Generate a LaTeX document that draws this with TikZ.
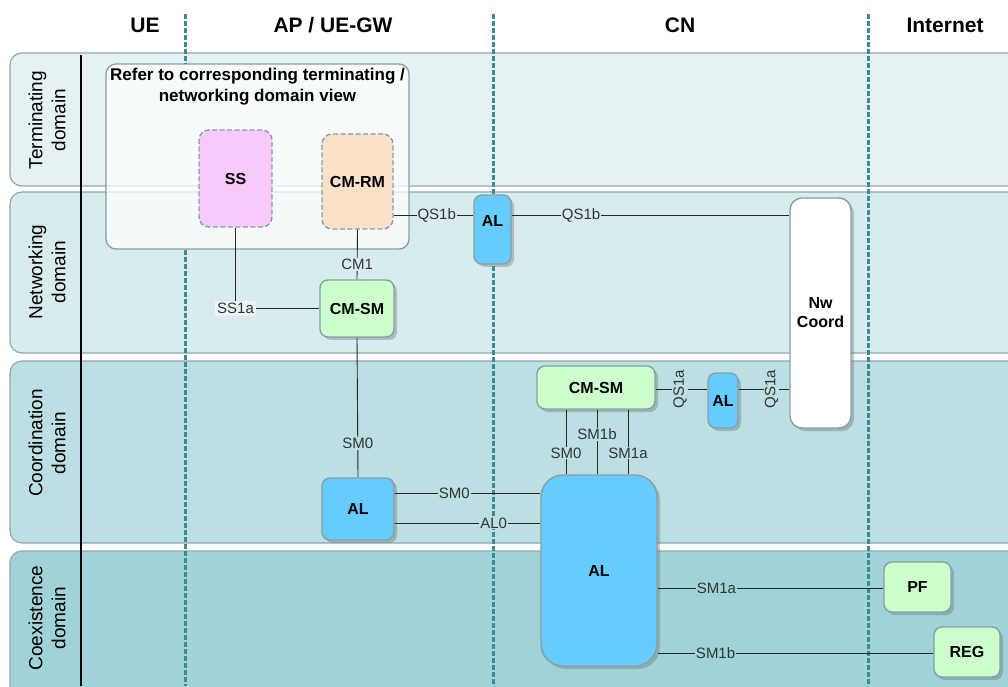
\documentclass[tikz,border=0pt]{standalone}
\usepackage{fontspec}
\setmainfont{Liberation Sans}
\usetikzlibrary{shadows}

\definecolor{laneA}{HTML}{E5F2F4}
\definecolor{laneB}{HTML}{D8EBEE}
\definecolor{laneC}{HTML}{BBDFE3}
\definecolor{laneD}{HTML}{A0D3D8}
\definecolor{laneline}{HTML}{8DA9AD}
\definecolor{boxline}{HTML}{86A0A5}
\definecolor{guide}{HTML}{3B8C93}
\definecolor{ssfill}{HTML}{F9C9F9}
\definecolor{rmfill}{HTML}{FCE1C9}
\definecolor{smfill}{HTML}{CCFFCC}
\definecolor{alfill}{HTML}{66CCFF}
\definecolor{ssbg}{HTML}{EBF5F6}

\tikzset{
  lane/.style={draw=laneline, line width=1.2pt, rounded corners=12pt},
  guideline/.style={draw=guide, line width=3pt, dash pattern=on 5pt off 2pt},
  hdr/.style={font=\fontsize{21}{24}\selectfont\bfseries},
  lanelbl/.style={font=\fontsize{19}{23}\selectfont, align=center, rotate=90},
  fn/.style={draw=boxline, line width=1.4pt, rounded corners=8pt,
    drop shadow={shadow xshift=3pt, shadow yshift=-3pt, opacity=.35, fill=black!60},
    font=\fontsize{16}{19}\selectfont\bfseries, align=center, inner sep=0pt},
  viewfn/.style={draw=boxline, line width=1.4pt, dash pattern=on 5pt off 2.5pt,
    rounded corners=10pt, font=\fontsize{16}{19}\selectfont\bfseries, inner sep=0pt},
  conn/.style={draw=black!85, line width=0.9pt},
  lbl/.style={font=\fontsize{15}{17}\selectfont, text=black!80, inner sep=1pt}
}

\begin{document}
\begin{tikzpicture}[x=1pt,y=1pt]
\useasboundingbox (0,0) rectangle (1008,686);
\clip (0,0) rectangle (1008,686);

% swim lanes
\draw[lane, fill=laneA] (10,500) rectangle (1040,633);
\draw[lane, fill=laneB] (10,333) rectangle (1040,494);
\draw[lane, fill=laneC] (10,143) rectangle (1040,325);
\draw[lane, fill=laneD] (10,-40) rectangle (1040,135);
\draw[line width=1.2pt] (81,631) -- (81,0);

% lane titles
\node[lanelbl] (tdom) at (47,566) {Terminating\\domain};
\node[lanelbl] (ndom) at (47,414) {Networking\\domain};
\node[lanelbl] (cdom) at (47,243) {Coordination\\domain};
\node[lanelbl] (xdom) at (47,68) {Coexistence\\domain};

% column titles
\node[hdr] (hue) at (145,661) {UE};
\node[hdr] (hap) at (333,661) {AP / UE-GW};
\node[hdr] (hcn) at (680,661) {CN};
\node[hdr] (hin) at (945,661) {Internet};

% framed view of the terminating / networking functions
\node[draw=boxline, line width=1.3pt, rounded corners=10pt, fill=white, fill opacity=0.72,
      minimum width=303pt, minimum height=185pt, inner sep=0pt] (refer) at (257.5,529.5) {};
\node[font=\fontsize{17}{21}\selectfont\bfseries, align=center, anchor=north, inner sep=0pt]
      (refertxt) at ([yshift=-5pt]refer.north) {Refer to corresponding terminating /\\networking domain view};

% column separators
\coordinate (gx1) at (185,672);
\draw[guideline] (gx1) -- (gx1 |- refer.north);
\draw[guideline] (gx1 |- refer.south) -- (185,0);
\draw[guideline] (493,672) -- (493,0);
\draw[guideline] (868,672) -- (868,0);

% functions
\node[viewfn, fill=ssfill, minimum width=73pt, minimum height=97pt] (ss) at (235.5,507.5) {SS};
\node[viewfn, fill=rmfill, minimum width=71pt, minimum height=95pt] (cmrm) at (357.5,504.5) {CM-RM};
\node[fn, fill=smfill, minimum width=74pt, minimum height=57pt] (cmsmA) at (357,377.5) {CM-SM};
\node[fn, fill=alfill, minimum width=37pt, minimum height=69pt,
      label={[font=\fontsize{16}{19}\selectfont\bfseries, yshift=9pt]center:AL}] (alA) at (492.5,456.5) {};
\node[fn, fill=white, rounded corners=12pt, minimum width=61pt, minimum height=230pt] (nwc) at (820.5,373) {Nw\\Coord};
\node[fn, fill=smfill, minimum width=118pt, minimum height=43pt] (cmsmB) at (596,298.5) {CM-SM};
\node[fn, fill=alfill, minimum width=30pt, minimum height=55pt] (alB) at (723,285.5) {AL};
\node[fn, fill=alfill, minimum width=72pt, minimum height=62pt] (alC) at (358,177) {AL};
\node[fn, fill=alfill, rounded corners=22pt, minimum width=116pt, minimum height=191pt] (alD) at (599,115.5) {AL};
\node[fn, fill=smfill, minimum width=67pt, minimum height=50pt] (pf) at (917.5,99) {PF};
\node[fn, fill=smfill, minimum width=66pt, minimum height=50pt] (reg) at (967,34) {REG};

% reference heights and columns of the interfaces
\coordinate (qsb) at (0,471);
\coordinate (qsa) at (0,297);
\coordinate (smz) at (0,193);
\coordinate (alz) at (0,163);
\coordinate (sma) at (0,98);
\coordinate (smb) at (0,33);
\coordinate (vx1) at (566,0);
\coordinate (vx2) at (597,0);
\coordinate (vx3) at (628,0);

% interfaces
\draw[conn] (ss.south) |- (cmsmA.west) node[pos=0.5, lbl, fill=ssbg, inner sep=2pt] (ssa) {SS1a};
\draw[conn] (cmrm.south) -- (cmsmA.north) node[pos=0.7, lbl, fill=laneB] (cmo) {CM1};
\draw[conn] (cmrm.east |- qsb) -- (alA.west |- qsb) node[pos=0.54, lbl, fill=laneB] (qsbA) {QS1b};
\draw[conn] (alA.east |- qsb) -- (nwc.west |- qsb) node[pos=0.25, lbl, fill=laneB] (qsbB) {QS1b};
\draw[conn] (cmsmA.south) -- (alC.north) node[pos=0.76, lbl, fill=laneC] (smzA) {SM0};
\draw[conn] (cmsmB.east |- qsa) -- (alB.west |- qsa) node[pos=0.47, lbl, fill=laneC, rotate=90] (qsaA) {QS1a};
\draw[conn] (alB.east |- qsa) -- (nwc.west |- qsa) node[pos=0.65, lbl, fill=laneC, rotate=90] (qsaB) {QS1a};
\draw[conn] (alC.east |- smz) -- (alD.west |- smz) node[pos=0.41, lbl, fill=laneC] (smzB) {SM0};
\draw[conn] (alC.east |- alz) -- (alD.west |- alz) node[pos=0.68, lbl, fill=laneC] (alzA) {AL0};
\draw[conn] (cmsmB.south -| vx1) -- (alD.north -| vx1) node[pos=0.67, lbl, fill=laneC] (smzC) {SM0};
\draw[conn] (cmsmB.south -| vx2) -- (alD.north -| vx2) node[pos=0.38, lbl, fill=laneC] (smbA) {SM1b};
\draw[conn] (cmsmB.south -| vx3) -- (alD.north -| vx3) node[pos=0.67, lbl, fill=laneC] (smaA) {SM1a};
\draw[conn] (alD.east |- sma) -- (pf.west |- sma) node[pos=0.26, lbl, fill=laneD] (smaB) {SM1a};
\draw[conn] (alD.east |- smb) -- (reg.west |- smb) node[pos=0.21, lbl, fill=laneD] (smbB) {SM1b};
\end{tikzpicture}
\end{document}
